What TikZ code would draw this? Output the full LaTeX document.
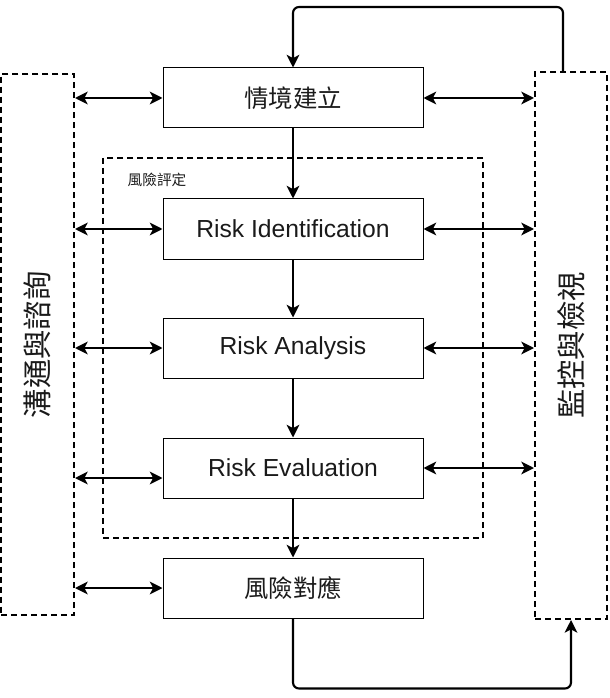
\documentclass[tikz,border=0pt]{standalone}
\usepackage{fontspec}
\setmainfont{Liberation Sans}
\newfontfamily\cjk{Noto Sans CJK TC}
\usepackage{xcolor}
\definecolor{cLine}{HTML}{000000}
\definecolor{cText}{HTML}{1A1A1A}
\usetikzlibrary{arrows.meta}
\tikzset{
  step-box/.style={draw=cLine,line width=0.75pt,inner sep=0pt,
    minimum width=195pt,minimum height=45pt,align=center,text=cText,
    font=\fontsize{18.5}{22}\selectfont},
  step-cjk/.style={font=\cjk\fontsize{18.3}{22}\selectfont},
  side-box/.style={draw=cLine,line width=1.5pt,dash pattern=on 4.5pt off 3pt,
    inner sep=0pt},
  side-label/.style={rotate=90,text=cText,font=\cjk\fontsize{22}{26}\selectfont},
  assess-box/.style={draw=cLine,line width=1.1pt,dash pattern=on 4.5pt off 3pt,
    inner sep=0pt,minimum width=285pt,minimum height=285pt},
  assess-label/.style={text=cText,font=\cjk\fontsize{11}{13}\selectfont},
  arrow/.style={-{Stealth[length=9.5pt,width=9.5pt,inset=2.5pt]},line width=1.6pt,draw=cLine},
  arrow-both/.style={{Stealth[length=9.5pt,width=9.5pt,inset=2.5pt]}-{Stealth[length=9.5pt,width=9.5pt,inset=2.5pt]},
    line width=1.6pt,draw=cLine},
  arrow-loop/.style={arrow,rounded corners=4.5pt},
}
\begin{document}
\begin{tikzpicture}[x=0.75pt,y=-0.75pt]
  \useasboundingbox (0,0) rectangle (609,698);
  % 外圍兩側：溝通與諮詢 / 監控與檢視
  \node[side-box,minimum width=54.75pt,minimum height=406.1pt,
    label={[side-label]center:溝通與諮詢}] (comm) at (37.5,344.75) {};
  \node[side-box,minimum width=54pt,minimum height=410.25pt,
    label={[side-label]center:監控與檢視}] (mon) at (571,345.5) {};
  % 風險評定範圍
  \node[assess-box] (assess) at (293,348) {};
  \node[assess-label,anchor=west] (assesstxt) at (123,180) {風險評定};
  % 主流程
  \node[step-box,step-cjk] (ctx) at (293,98) {情境建立};
  \node[step-box] (ident) at (293,229) {Risk Identification};
  \node[step-box] (anal) at (293,348) {Risk Analysis};
  \node[step-box] (eval) at (293,468) {Risk Evaluation};
  \node[step-box,step-cjk] (resp) at (293,588) {風險對應};
  \draw[arrow] (ctx) -- (ident);
  \draw[arrow] (ident) -- (anal);
  \draw[arrow] (anal) -- (eval);
  \draw[arrow] (eval) -- (resp);
  % 兩側雙向
  \foreach \n in {ctx,ident,anal,resp}
    \draw[arrow-both] (comm.east |- \n.west) -- (\n.west);
  \draw[arrow-both] (comm.east |- 0,478) -- (eval.west |- 0,478);
  \foreach \n in {ctx,ident,anal,eval}
    \draw[arrow-both] (\n.east) -- (\n.east -| mon.west);
  % 回饋迴圈
  \draw[arrow-loop] ([xshift=-6pt]mon.north) -- ++(0,-64) -| (ctx.north);
  \draw[arrow-loop] (resp.south) -- ++(0,70) -| (mon.south);
\end{tikzpicture}
\end{document}
